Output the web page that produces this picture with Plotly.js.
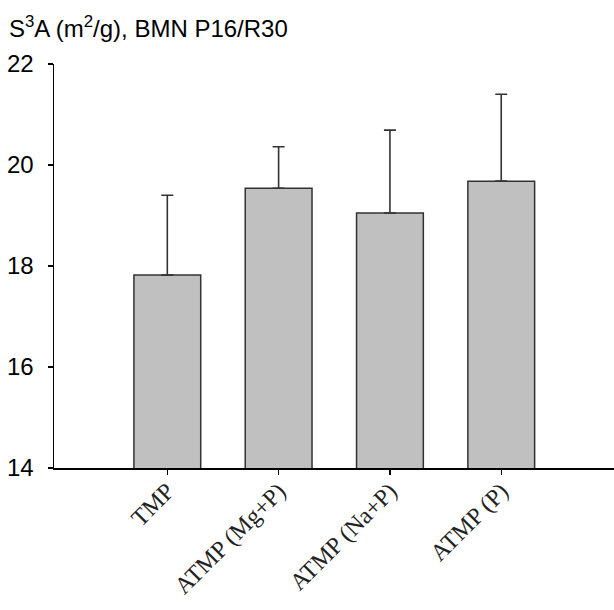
<!DOCTYPE html>
<html>
<head>
<meta charset="utf-8">
<script src="https://cdn.plot.ly/plotly-3.0.1.min.js"></script>
<style>html,body{margin:0;padding:0;background:#fff;}#chart{width:614px;height:610px;}</style>
</head>
<body>
<div id="chart"></div>
<script>
const categories = ["TMP", "ATMP (Mg+P)", "ATMP (Na+P)", "ATMP (P)"];
const means = [17.82, 19.54, 19.05, 19.68];
const errors = [1.58, 0.82, 1.64, 1.72];
const yTicks = [14, 16, 18, 20, 22];
const titleText = "S<sup>3</sup>A (m<sup>2</sup>/g), BMN P16/R30";

const trace = {
  type: "bar",
  x: categories,
  y: means,
  marker: {color: "#c0c0c0", line: {color: "#333333", width: 1.5}},
  error_y: {
    type: "data", symmetric: false, array: errors,
    arrayminus: errors.map(() => 0),
    color: "#333333", thickness: 1.6, width: 6
  },
  hoverinfo: "none"
};

const layout = {
  width: 614, height: 610,
  margin: {l: 54, r: 0, t: 64, b: 142, pad: 0},
  paper_bgcolor: "#ffffff", plot_bgcolor: "#ffffff",
  showlegend: false,
  bargap: 0.4,
  title: {
    text: titleText, x: 9/614, xref: "container", xanchor: "left",
    y: 1 - 29/610, yref: "container", yanchor: "middle",
    font: {family: "Liberation Sans, Arial, sans-serif", size: 24, color: "#000"}
  },
  xaxis: {
    type: "category",
    range: [-1.018, 4.013],
    showline: true, linecolor: "#000", linewidth: 1.5,
    ticks: "outside", ticklen: 5, tickwidth: 1.2, tickcolor: "#000",
    tickangle: -45, showgrid: false, zeroline: false, ticklabelstandoff: -7,
    tickfont: {family: "Liberation Serif, Times New Roman, serif", size: 24, color: "#222"}
  },
  yaxis: {
    range: [14, 22], tickvals: yTicks, ticktext: yTicks.map(String),
    showline: true, linecolor: "#000", linewidth: 1.5,
    ticks: "outside", ticklen: 5, tickwidth: 1.2, tickcolor: "#000",
    showgrid: false, zeroline: false, ticklabelstandoff: 9,
    tickfont: {family: "Liberation Sans, Arial, sans-serif", size: 24, color: "#000"}
  }
};

Plotly.newPlot("chart", [trace], layout, {displayModeBar: false, staticPlot: true});
</script>
</body>
</html>
